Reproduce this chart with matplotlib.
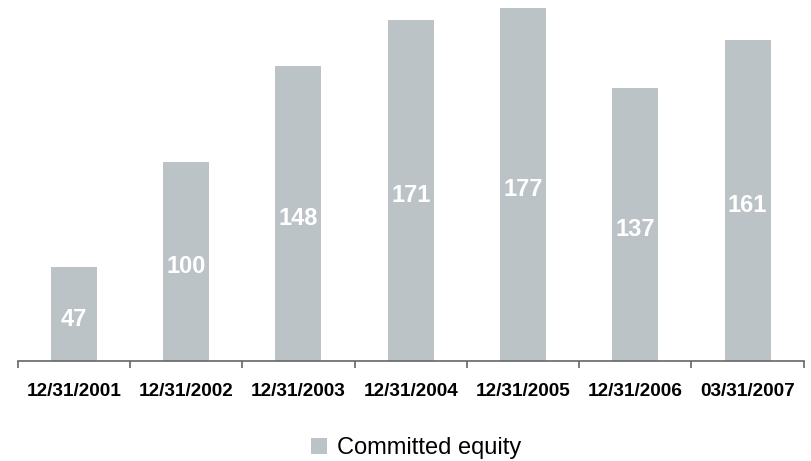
import matplotlib
matplotlib.use("Agg")
import matplotlib.pyplot as plt
import numpy as np
from matplotlib.patches import Patch

categories = ["12/31/2001", "12/31/2002", "12/31/2003", "12/31/2004",
              "12/31/2005", "12/31/2006", "03/31/2007"]
values = [47, 100, 148, 171, 177, 137, 161]
series_name = "Committed equity"

plt.rcParams['font.family'] = ['Liberation Sans', 'DejaVu Sans']

W, H = 812, 461
fig = plt.figure(figsize=(W/100, H/100), dpi=100)
ax = fig.add_axes([17.7/W, 1 - 361/H, (803.8-17.7)/W, 361/H])

color = "#BCC3C6"
x = np.arange(len(categories))
ax.bar(x, values, width=0.41, color=color, zorder=2)
for xi, v in zip(x, values):
    ax.text(xi, v/2 - 2.5, str(v), ha='center', va='center', color='white',
            fontsize=17, fontweight='bold')

ax.set_xlim(-0.5, len(categories) - 0.5)
ax.set_ylim(0, 181)
for s in ['top', 'right', 'left']:
    ax.spines[s].set_visible(False)
ax.spines['bottom'].set_color('#666666')
ax.spines['bottom'].set_linewidth(1.2)
ax.set_yticks([])
ax.set_xticks(x)
ax.set_xticklabels(categories, fontsize=13.7, fontweight='bold')
ax.tick_params(axis='x', which='major', length=0, pad=15.5)
ax.set_xticks(np.arange(len(categories) + 1) - 0.5, minor=True)
ax.tick_params(axis='x', which='minor', length=5, width=1.2, color='#666666', direction='out')

fig.legend(handles=[Patch(facecolor=color, edgecolor='none', label=series_name)],
           loc='center', bbox_to_anchor=(0.513, 1 - 448/H), frameon=False,
           fontsize=17, handlelength=0.65, handleheight=0.65, handletextpad=0.45)

fig.savefig("out.png", dpi=100)
